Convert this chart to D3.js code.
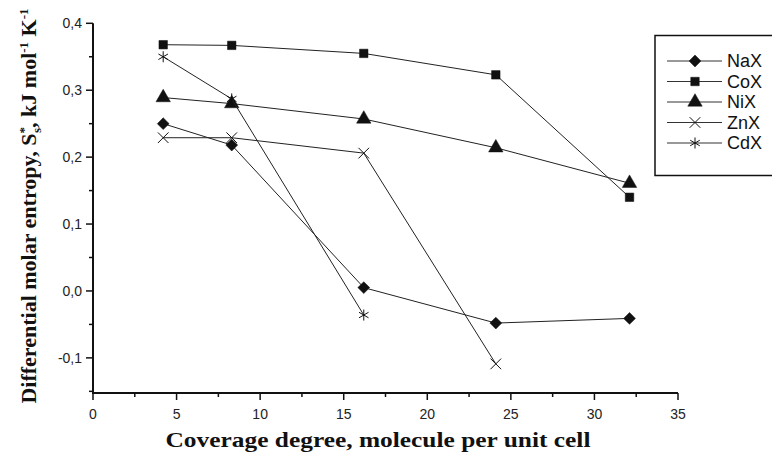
<!DOCTYPE html>
<html lang="en" dir="ltr">
  <head>
    <meta charset="utf-8">
    <title>Differential molar entropy</title>
    <script src="https://d3js.org/d3.v7.min.js"></script>
    <style>
      body { margin: 0; background: #fff; }
      svg { display: block; }
      .tick-label { font: 14px "Liberation Sans", Arial, sans-serif; fill: #222; }
      .axis-title { font-family: "Liberation Serif", "Times New Roman", serif; font-weight: bold; fill: #111; }
      .legend-text { font: 18px "Liberation Sans", Arial, sans-serif; fill: #111; }
    </style>
  </head>
  <body>
    <script>
        // data
        const coverage = [4.2, 8.3, 16.2, 24.1, 32.1]
        const seriesNames = ["NaX", "CoX", "NiX", "ZnX", "CdX"]
        const NaX = [0.250, 0.218, 0.005, -0.048, -0.041]
        const CoX = [0.368, 0.367, 0.355, 0.323, 0.140]
        const NiX = [0.289, 0.280, 0.257, 0.214, 0.161]
        const ZnX = [0.229, 0.229, 0.206, -0.109]
        const CdX = [0.350, 0.287, -0.036]
        const xTicks = [0, 5, 10, 15, 20, 25, 30, 35]
        const yTicks = [-0.1, 0.0, 0.1, 0.2, 0.3, 0.4]

        const measurements = {
            width: 772,
            height: 457,
            left: 93,
            right: 678,
            top: 23.3,
            bottom: 393
        }

        const svg = d3.select('body').append("svg")
            .attr('width', measurements.width)
            .attr('height', measurements.height)

        const scaleX = d3.scaleLinear()
            .domain([0, 35])
            .range([measurements.left, measurements.right])

        const scaleY = d3.scaleLinear()
            .domain([-0.1525, 0.4])
            .range([measurements.bottom, measurements.top])

        const markers = {
            "NaX": { type: d3.symbolSquare, size: 70, rotate: 45, fill: true },
            "CoX": { type: d3.symbolSquare, size: 72, rotate: 0, fill: true },
            "NiX": { type: d3.symbolTriangle, size: 90, rotate: 0, fill: true },
            "ZnX": { type: d3.symbolTimes, size: 75, rotate: 0, fill: false },
            "CdX": { type: d3.symbolAsterisk, size: 85, rotate: 0, fill: false }
        }

        const allSeries = [NaX, CoX, NiX, ZnX, CdX]

        drawAxes()

        // lines and points
        allSeries.forEach(function(values, i) {
            const name = seriesNames[i]
            const pts = values.map((v, j) => [coverage[j], v])
            const line = d3.line()
                .x(d => scaleX(d[0]))
                .y(d => scaleY(d[1]))

            svg.append("path")
                .attr("d", line(pts))
                .attr("fill", "none")
                .attr("stroke", "#222")
                .attr("stroke-width", 1)

            svg.selectAll(".pt-" + name)
                .data(pts)
                .enter()
                .append("path")
                .attr("class", "pt-" + name)
                .attr("d", d3.symbol().type(markers[name].type).size(markers[name].size))
                .attr("transform", d => "translate(" + scaleX(d[0]) + "," + scaleY(d[1]) + ") rotate(" + markers[name].rotate + ")")
                .attr("fill", markers[name].fill ? "#111" : "none")
                .attr("stroke", "#111")
                .attr("stroke-width", markers[name].fill ? 0.5 : 1)
        })

        drawLegend()

        function drawAxes() {
            const axes = svg.append("g")

            // y axis
            axes.append("line")
                .attr("x1", measurements.left).attr("x2", measurements.left)
                .attr("y1", measurements.top).attr("y2", measurements.bottom + 1)
                .attr("stroke", "#111").attr("stroke-width", 2)

            // x axis
            axes.append("line")
                .attr("x1", measurements.left - 1).attr("x2", measurements.right)
                .attr("y1", measurements.bottom).attr("y2", measurements.bottom)
                .attr("stroke", "#111").attr("stroke-width", 2)

            // y ticks (major + minor)
            d3.range(-0.15, 0.401, 0.05).forEach(function(v) {
                const major = yTicks.some(t => Math.abs(t - v) < 1e-6)
                axes.append("line")
                    .attr("x1", measurements.left).attr("x2", measurements.left - (major ? 7 : 4))
                    .attr("y1", scaleY(v)).attr("y2", scaleY(v))
                    .attr("stroke", "#111").attr("stroke-width", 1.5)
            })
            yTicks.forEach(function(v) {
                axes.append("text")
                    .attr("class", "tick-label")
                    .attr("x", measurements.left - 11)
                    .attr("y", scaleY(v) + 5)
                    .attr("text-anchor", "end")
                    .text(d3.format(".1f")(v).replace(".", ",").replace("−", "-"))
            })

            // x ticks (major + minor)
            d3.range(0, 35.01, 2.5).forEach(function(v) {
                const major = xTicks.includes(v)
                axes.append("line")
                    .attr("x1", scaleX(v)).attr("x2", scaleX(v))
                    .attr("y1", measurements.bottom).attr("y2", measurements.bottom + (major ? 7 : 4))
                    .attr("stroke", "#111").attr("stroke-width", 1.5)
            })
            xTicks.forEach(function(v) {
                axes.append("text")
                    .attr("class", "tick-label")
                    .attr("x", scaleX(v))
                    .attr("y", measurements.bottom + 26)
                    .attr("text-anchor", "middle")
                    .text(v)
            })

            // x title
            svg.append("text")
                .attr("class", "axis-title")
                .attr("x", 378)
                .attr("y", 447)
                .attr("text-anchor", "middle")
                .attr("textLength", 425)
                .attr("lengthAdjust", "spacingAndGlyphs")
                .style("font-size", "22px")
                .text("Coverage degree, molecule per unit cell")

            // y title, with super/subscripts
            const yt = svg.append("text")
                .attr("class", "axis-title")
                .attr("transform", "translate(36," + 206 + ") rotate(-90)")
                .attr("text-anchor", "middle")
                .style("font-size", "22px")
            yt.append("tspan").text("Differential molar entropy, S")
            yt.append("tspan").attr("dy", -8).style("font-size", "13px").text("*")
            yt.append("tspan").attr("dy", 13).attr("dx", -6).style("font-size", "13px").text("s")
            yt.append("tspan").attr("dy", -5).text(", kJ mol")
            yt.append("tspan").attr("dy", -8).style("font-size", "13px").text("-1")
            yt.append("tspan").attr("dy", 8).text(" K")
            yt.append("tspan").attr("dy", -8).style("font-size", "13px").text("-1")
        }

        function drawLegend() {
            const lg = svg.append("g")
            lg.append("rect")
                .attr("x", 655).attr("y", 35.5)
                .attr("width", 140).attr("height", 140)
                .attr("fill", "#fff")
                .attr("stroke", "#111").attr("stroke-width", 1.5)

            seriesNames.forEach(function(name, i) {
                const y = 61 + i * 20.5
                lg.append("line")
                    .attr("x1", 667).attr("x2", 722)
                    .attr("y1", y).attr("y2", y)
                    .attr("stroke", "#333").attr("stroke-width", 1)
                lg.append("path")
                    .attr("d", d3.symbol().type(markers[name].type).size(markers[name].size)())
                    .attr("transform", "translate(695," + y + ") rotate(" + markers[name].rotate + ")")
                    .attr("fill", markers[name].fill ? "#111" : "none")
                    .attr("stroke", "#111")
                    .attr("stroke-width", markers[name].fill ? 0.5 : 1)
                lg.append("text")
                    .attr("class", "legend-text")
                    .attr("x", 727)
                    .attr("y", y + 6)
                    .text(name)
            })
        }
    </script>
  </body>
</html>
